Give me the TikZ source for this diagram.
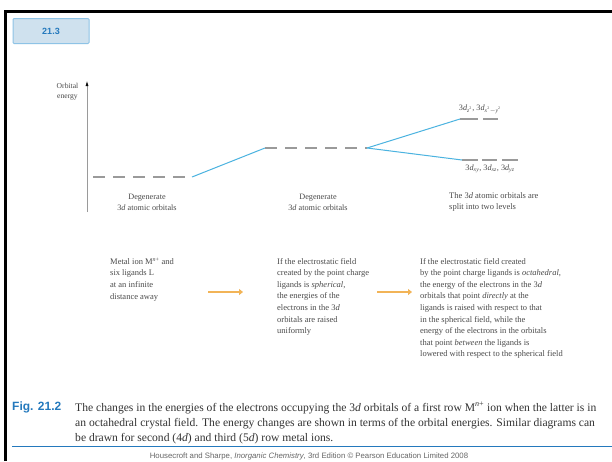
\documentclass[tikz,border=0pt]{standalone}
\usepackage{fontspec}
\setmainfont{Liberation Serif}
\setsansfont{Liberation Sans}
\usetikzlibrary{arrows.meta}
\definecolor{lvl}{HTML}{9A9A9A}
\definecolor{conn}{HTML}{4BB3E0}
\definecolor{orng}{HTML}{F2B457}
\definecolor{figblue}{HTML}{2479BD}
\definecolor{badgefill}{HTML}{CFE1EE}
\definecolor{badgedraw}{HTML}{8EC3E6}
\definecolor{txt}{HTML}{4A4A4A}
\newcommand{\dorb}[1]{3\textit{d}\textsubscript{#1}}
\begin{document}
\begin{tikzpicture}[x=1pt,y=-1pt,
  badge/.style={draw=badgedraw, fill=badgefill, line width=1pt, rounded corners=1pt,
    minimum width=76pt, minimum height=25pt, text=figblue, font=\sffamily\bfseries\fontsize{9}{10}\selectfont},
  axisline/.style={draw=lvl, line width=0.6pt, -{Latex[length=5pt,width=3pt,color=black]}},
  degen/.style={draw=lvl, line width=1.2pt, dash pattern=on 12pt off 8pt},
  orbline/.style={draw=lvl, line width=1.2pt},
  connline/.style={draw=conn, line width=1pt},
  lab/.style={text=txt, inner sep=0pt, font=\fontsize{8.2}{11}\selectfont},
  block/.style={text=txt, inner sep=0pt, anchor=north west, align=left, font=\fontsize{8.5}{11.6}\selectfont},
  stagearrow/.style={draw=orng, line width=2.5pt, -{Triangle[length=4pt,width=6pt]}},
]
\useasboundingbox (0,0) rectangle (612,461);
\fill[white] (0,0) rectangle (612,461);
% frame
\draw[line width=2.5pt, black] (5.5,461) -- (5.5,11.5) -- (612,11.5);
% badge
\node[badge] (badge) at (51,31) {21.3};

% axis
\coordinate (axb) at (87,212);
\coordinate (axt) at (87,81);
\draw[axisline] (axb) -- (axt);
\node[lab, align=center, font=\fontsize{7.6}{10.5}\selectfont] (ylab) at (67.5,91.5) {Orbital\\energy};

% levels
\coordinate (l1a) at (93,177);
\coordinate (l1b) at (192,177);
\coordinate (l2a) at (265,148);
\coordinate (l2b) at (367,148);
\coordinate (e1a) at (460,119); \coordinate (e1b) at (478,119);
\coordinate (e2a) at (483,119); \coordinate (e2b) at (498,119);
\coordinate (t1a) at (462,160); \coordinate (t1b) at (478,160);
\coordinate (t2a) at (482,160); \coordinate (t2b) at (497,160);
\coordinate (t3a) at (502,160); \coordinate (t3b) at (518,160);

\draw[degen] (l1a) -- (l1b);
\draw[degen] (l2a) -- (l2b);
\draw[orbline] (e1a) -- (e1b);
\draw[orbline] (e2a) -- (e2b);
\draw[orbline] (t1a) -- (t1b);
\draw[orbline] (t2a) -- (t2b);
\draw[orbline] (t3a) -- (t3b);

\draw[connline] (l1b) -- (l2a);
\draw[connline] (l2b) -- (e1a);
\draw[connline] (l2b) -- (t1a);

% level labels
\node[lab] (eglab) at (480,109) {\dorb{\textit{z}\textsuperscript{2}}, \dorb{\textit{x}\textsuperscript{2}$-$\textit{y}\textsuperscript{2}}};
\node[lab] (tglab) at (490,169) {\dorb{\textit{xy}}, \dorb{\textit{xz}}, \dorb{\textit{yz}}};
\node[lab, align=center] (deg1) at (147,202.5) {Degenerate\\3\textit{d} atomic orbitals};
\node[lab, align=center] (deg2) at (318,202.5) {Degenerate\\3\textit{d} atomic orbitals};
\node[lab, align=left, anchor=north west, font=\fontsize{8.5}{11}\selectfont] (split) at (449,192) {The 3\textit{d} atomic orbitals are\\split into two levels};

% description blocks
\node[block] (b1) at (110,258) {Metal ion M\textsuperscript{\textit{n}+} and\\six ligands L\\at an infinite\\distance away};
\node[block] (b2) at (277,258) {If the electrostatic field\\created by the point charge\\ligands is \textit{spherical},\\the energies of the\\electrons in the 3\textit{d}\\orbitals are raised\\uniformly};
\node[block] (b3) at (420,258) {If the electrostatic field created\\by the point charge ligands is \textit{octahedral},\\the energy of the electrons in the 3\textit{d}\\orbitals that point \textit{directly} at the\\ligands is raised with respect to that\\in the spherical field, while the\\energy of the electrons in the orbitals\\that point \textit{between} the ligands is\\lowered with respect to the spherical field};

\coordinate (a1s) at (208,292); \coordinate (a1e) at (243,292);
\coordinate (a2s) at (377,292); \coordinate (a2e) at (412,292);
\draw[stagearrow] (a1s) -- (a1e);
\draw[stagearrow] (a2s) -- (a2e);

% caption
\node[anchor=north west, inner sep=0pt, text=figblue, font=\sffamily\bfseries\fontsize{12}{14}\selectfont] (fig) at (12,402) {Fig. 21.2};
\node[anchor=north west, inner sep=0pt, align=left, text=black!80, font=\fontsize{11.6}{15}\selectfont] (cap) at (75,402) {The changes in the energies of the electrons occupying the 3\textit{d} orbitals of a first row M\textsuperscript{\textit{n}+} ion when the latter is in\\an octahedral crystal field. The energy changes are shown in terms of the orbital energies. Similar diagrams can\\be drawn for second (4\textit{d}) and third (5\textit{d}) row metal ions.};
\coordinate (rl) at (12,446.5); \coordinate (rr) at (612,446.5);
\draw[figblue, line width=1.6pt] (rl) -- (rr);
\node[inner sep=0pt, text=black!60, font=\sffamily\fontsize{7.8}{8}\selectfont] (foot) at (309,456.5) {Housecroft and Sharpe, \textit{Inorganic Chemistry}, 3rd Edition \textcopyright\ Pearson Education Limited 2008};
\end{tikzpicture}
\end{document}
